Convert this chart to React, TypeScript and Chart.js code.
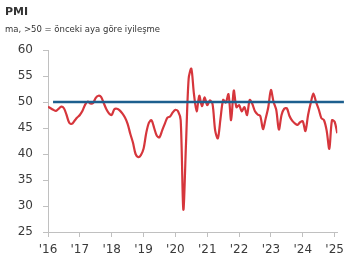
import React, { useEffect, useRef } from "react";
import { Chart, registerables } from "chart.js";

Chart.register(...registerables);

// Monthly PMI, Jan 2016 .. Feb 2025
const pmiValues: number[] = [
  49.1, 48.8, 48.5, 48.3, 48.7, 49.1, 48.8, 47.5, 46.0, 45.8, 46.4, 47.0,
  47.5, 48.3, 49.5, 50.1, 49.7, 49.8, 50.8, 51.2, 51.0, 49.8, 48.6, 47.8,
  47.5, 48.6, 48.7, 48.4, 47.8, 47.0, 45.8, 43.9, 42.2, 40.0, 39.4, 39.8,
  41.0, 44.0, 46.0, 46.5, 45.0, 43.5, 43.2, 44.5, 45.8, 47.0, 47.2, 48.0,
  48.5, 48.2, 46.5, 29.3, 42.0, 54.5, 56.4, 51.5, 48.2, 51.2, 49.2, 50.9,
  49.4, 50.3, 49.6, 44.5, 43.0, 46.8, 50.4, 49.9, 51.5, 46.5, 52.2, 49.0,
  49.4, 48.2, 49.0, 47.5, 50.4, 49.6, 48.2, 47.6, 47.3, 44.8, 46.8, 49.0,
  52.3, 50.0, 48.5, 44.7, 47.5, 48.7, 48.8, 47.3, 46.4, 45.9, 45.6, 46.1,
  46.3, 44.4, 47.5, 49.8, 51.6, 50.0, 48.6, 46.9, 46.5, 44.5, 41.0, 46.5,
  46.2, 44.0,
];

const yearLabels: string[] = ["'16", "'17", "'18", "'19", "'20", "'21", "'22", "'23", "'24", "'25"];
const yMin = 25;
const yMax = 60;
const yStep = 5;
const threshold = 50;
const thresholdSpan: number[] = [1.9, 111.5]; // in months from Jan 2016

const titleText = "PMI";
const subtitleText = "ma, >50 = önceki aya göre iyileşme";

export default function App() {
  const canvasRef = useRef<HTMLCanvasElement | null>(null);

  useEffect(() => {
    const canvas = canvasRef.current;
    if (!canvas) return;
    const axisColor = "#c0c0c0";
    const tickFont = { family: "'DejaVu Sans', sans-serif", size: 12 };
    const chart = new Chart(canvas, {
      type: "line",
      data: {
        datasets: [
          {
            data: thresholdSpan.map((x) => ({ x, y: threshold })),
            borderColor: "#1d5f8e",
            borderWidth: 2.5,
            pointRadius: 0,
            clip: false as any,
            order: 0,
          },
          {
            data: pmiValues.map((v, i) => ({ x: i, y: v })),
            borderColor: "#d6363c",
            borderWidth: 2.2,
            pointRadius: 0,
            tension: 0.3,
            order: 1,
          },
        ],
      },
      options: {
        responsive: false,
        animation: false,
        devicePixelRatio: 1,
        layout: { padding: { top: 50, right: 10, left: 0, bottom: 0 } },
        plugins: { legend: { display: false }, tooltip: { enabled: false }, title: { display: false } },
        scales: {
          x: {
            type: "linear",
            min: 0,
            max: pmiValues.length - 1,
            afterBuildTicks: (s: any) => {
              s.ticks = yearLabels.map((_, k) => ({ value: k * 12 }));
            },
            afterFit: (s: any) => {
              s.height = 32;
            },
            ticks: {
              autoSkip: false,
              maxRotation: 0,
              padding: 6,
              color: "#3a3a3a",
              font: tickFont,
              callback: (v: any) => yearLabels[Math.round(Number(v) / 12)] ?? "",
            },
            grid: { drawOnChartArea: false, drawTicks: true, tickLength: 5, color: axisColor },
            border: { color: axisColor, width: 1 },
          },
          y: {
            min: yMin,
            max: yMax,
            afterFit: (s: any) => {
              s.width = 48;
            },
            ticks: { stepSize: yStep, padding: 10, color: "#3a3a3a", font: tickFont },
            grid: { drawOnChartArea: false, drawTicks: true, tickLength: 5, color: axisColor },
            border: { color: axisColor, width: 1 },
          },
        },
      },
    });
    return () => chart.destroy();
  }, []);

  return (
    <div style={{ position: "fixed", left: 0, top: 0, width: 350, height: 264, background: "#fff" }}>
      <canvas ref={canvasRef} width={350} height={264} style={{ position: "absolute", left: 0, top: 0 }} />
      <div
        style={{
          position: "absolute",
          left: 5,
          top: 5,
          fontFamily: "'DejaVu Sans', sans-serif",
          fontWeight: 700,
          fontSize: 11,
          lineHeight: "13px",
          color: "#333",
          whiteSpace: "nowrap",
        }}
      >
        {titleText}
      </div>
      <div
        style={{
          position: "absolute",
          left: 5,
          top: 23,
          fontFamily: "'DejaVu Sans', sans-serif",
          fontSize: 8.5,
          lineHeight: "12px",
          color: "#333",
          whiteSpace: "nowrap",
        }}
      >
        {subtitleText}
      </div>
    </div>
  );
}
